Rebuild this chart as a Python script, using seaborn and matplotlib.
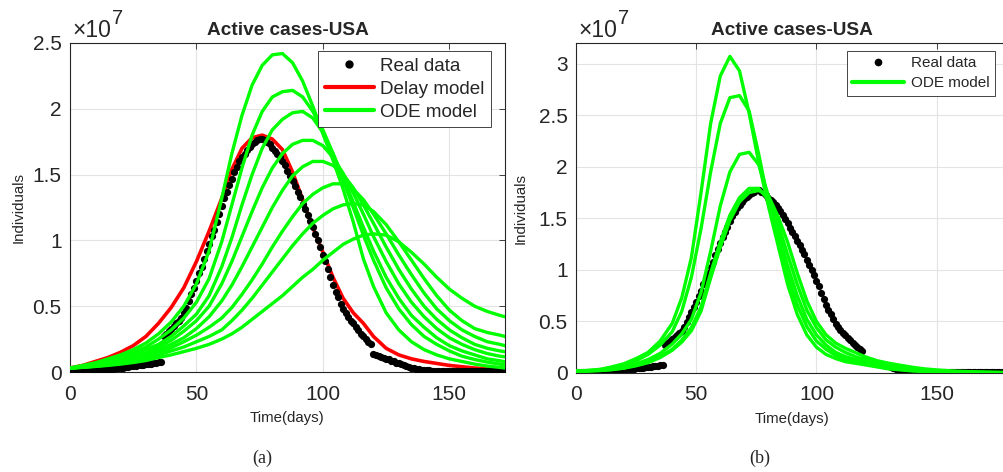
import matplotlib
matplotlib.use("Agg")
import matplotlib.pyplot as plt
import pandas as pd
import seaborn as sns
from matplotlib.lines import Line2D

# ---- real data (units of 1e7), one value per day ----
real_days = list(range(0, 181))
real_cases = [
    0.010, 0.010, 0.010, 0.010, 0.011, 0.011, 0.012, 0.013, 0.014, 0.015,
    0.016, 0.017, 0.018, 0.019, 0.020, 0.022, 0.024, 0.026, 0.028, 0.030,
    0.032, 0.034, 0.037, 0.040, 0.042, 0.045, 0.047, 0.050, 0.052, 0.055,
    0.058, 0.061, 0.064, 0.067, 0.070, 0.074, 0.078, 0.27, 0.29, 0.31,
    0.33, 0.35, 0.37, 0.39, 0.41, 0.45, 0.49, 0.54, 0.59, 0.64,
    0.69, 0.75, 0.80, 0.86, 0.92, 0.97, 1.03, 1.08, 1.14, 1.20,
    1.26, 1.32, 1.37, 1.42, 1.47, 1.52, 1.56, 1.60, 1.63, 1.66,
    1.69, 1.71, 1.73, 1.75, 1.76, 1.77, 1.77, 1.76, 1.75, 1.73,
    1.70, 1.68, 1.66, 1.63, 1.60, 1.57, 1.53, 1.49, 1.45, 1.41,
    1.37, 1.33, 1.28, 1.24, 1.19, 1.15, 1.10, 1.05, 1.00, 0.95,
    0.89, 0.84, 0.78, 0.72, 0.66, 0.61, 0.57, 0.52, 0.48, 0.45,
    0.42, 0.39, 0.37, 0.34, 0.32, 0.29, 0.27, 0.25, 0.23, 0.21,
    0.14, 0.13, 0.12, 0.115, 0.11, 0.10, 0.095, 0.087, 0.08, 0.072,
    0.065, 0.058, 0.05, 0.043, 0.037, 0.032, 0.027, 0.023, 0.02, 0.017,
    0.015, 0.013, 0.012, 0.011, 0.010, 0.0095, 0.009, 0.0085, 0.008, 0.0075,
    0.007, 0.007, 0.007, 0.007, 0.006, 0.006, 0.006, 0.006, 0.006, 0.006,
    0.005, 0.005, 0.005, 0.005, 0.005, 0.005, 0.005, 0.005, 0.005, 0.005,
    0.005, 0.005, 0.005, 0.005, 0.005, 0.005, 0.005, 0.005, 0.005, 0.005,
    0.005,
]

# ---- panel (a): model curves ----
days_a = [0, 5, 10, 15, 20, 25, 30, 35, 40, 45, 50, 55, 60,
          64, 68, 72, 76, 80, 84, 88, 92, 96, 100, 104, 108, 112, 116, 120,
          125, 130, 135, 140, 145, 150, 155, 160, 165, 170, 172]

delay_model = [0.03, 0.05, 0.08, 0.11, 0.15, 0.20, 0.27, 0.37, 0.49, 0.64, 0.84, 1.07, 1.32,
               1.54, 1.70, 1.78, 1.80, 1.77, 1.69, 1.52, 1.31, 1.10, 0.91, 0.72, 0.56, 0.45, 0.37, 0.27,
               0.18, 0.13, 0.10, 0.08, 0.065, 0.05, 0.04, 0.03, 0.025, 0.02, 0.018]

ode_a1 = [0.03, 0.05, 0.07, 0.10, 0.13, 0.17, 0.22, 0.29, 0.38, 0.50, 0.67, 0.92, 1.32,
          1.66, 1.95, 2.18, 2.33, 2.41, 2.42, 2.35, 2.21, 2.02, 1.81, 1.61, 1.39, 1.14, 0.86, 0.65,
          0.45, 0.32, 0.23, 0.17, 0.13, 0.10, 0.08, 0.06, 0.045, 0.035, 0.03]
ode_a2 = [0.03, 0.045, 0.06, 0.085, 0.11, 0.15, 0.19, 0.25, 0.32, 0.41, 0.53, 0.71, 0.99,
          1.27, 1.55, 1.80, 1.98, 2.09, 2.13, 2.14, 2.09, 1.98, 1.84, 1.66, 1.46, 1.25, 1.04, 0.85,
          0.64, 0.48, 0.36, 0.27, 0.21, 0.16, 0.12, 0.095, 0.075, 0.06, 0.053]
ode_a3 = [0.03, 0.04, 0.055, 0.075, 0.10, 0.13, 0.17, 0.21, 0.27, 0.35, 0.44, 0.58, 0.80,
          1.02, 1.27, 1.50, 1.70, 1.84, 1.92, 1.97, 1.98, 1.93, 1.82, 1.66, 1.48, 1.29, 1.10, 0.92,
          0.72, 0.56, 0.43, 0.34, 0.26, 0.20, 0.16, 0.13, 0.10, 0.085, 0.078]
ode_a4 = [0.03, 0.04, 0.05, 0.065, 0.085, 0.11, 0.145, 0.19, 0.24, 0.31, 0.39, 0.50, 0.67,
          0.84, 1.03, 1.22, 1.40, 1.55, 1.66, 1.73, 1.76, 1.76, 1.72, 1.63, 1.51, 1.36, 1.20, 1.03,
          0.84, 0.67, 0.53, 0.42, 0.33, 0.26, 0.21, 0.17, 0.14, 0.12, 0.116]
ode_a5 = [0.03, 0.038, 0.048, 0.06, 0.077, 0.10, 0.13, 0.17, 0.21, 0.26, 0.33, 0.42, 0.54,
          0.66, 0.80, 0.95, 1.10, 1.25, 1.38, 1.49, 1.56, 1.60, 1.60, 1.57, 1.50, 1.40, 1.27, 1.13,
          0.95, 0.78, 0.63, 0.50, 0.40, 0.32, 0.26, 0.21, 0.18, 0.16, 0.154]
ode_a6 = [0.03, 0.037, 0.046, 0.057, 0.072, 0.09, 0.115, 0.15, 0.185, 0.23, 0.28, 0.34, 0.41,
          0.49, 0.59, 0.70, 0.82, 0.95, 1.07, 1.18, 1.28, 1.35, 1.40, 1.43, 1.43, 1.39, 1.31, 1.20,
          1.05, 0.89, 0.74, 0.60, 0.48, 0.39, 0.32, 0.27, 0.23, 0.21, 0.20]
ode_a7 = [0.03, 0.036, 0.044, 0.054, 0.068, 0.085, 0.105, 0.13, 0.16, 0.19, 0.23, 0.27, 0.32,
          0.39, 0.47, 0.56, 0.66, 0.76, 0.86, 0.96, 1.05, 1.13, 1.19, 1.24, 1.27, 1.28, 1.27, 1.22,
          1.12, 0.99, 0.85, 0.71, 0.58, 0.47, 0.39, 0.33, 0.30, 0.28, 0.27]
ode_a8 = [0.03, 0.035, 0.042, 0.05, 0.06, 0.072, 0.087, 0.11, 0.13, 0.155, 0.18, 0.21, 0.25,
          0.29, 0.34, 0.40, 0.46, 0.52, 0.58, 0.65, 0.72, 0.78, 0.85, 0.91, 0.97, 1.01, 1.04, 1.05,
          1.04, 0.99, 0.91, 0.82, 0.72, 0.63, 0.56, 0.50, 0.46, 0.43, 0.42]
ode_a = [ode_a1, ode_a2, ode_a3, ode_a4, ode_a5, ode_a6, ode_a7, ode_a8]

# ---- panel (b): model curves ----
days_b = [0, 5, 10, 15, 20, 25, 30, 35, 40,
          44, 48, 52, 56, 60, 64, 68, 72, 76, 80, 84, 88, 92, 96, 100, 104, 108, 112, 116, 120,
          125, 130, 135, 140, 145, 150, 155, 160, 165, 170, 175, 180]

ode_b1 = [0.02, 0.025, 0.035, 0.06, 0.09, 0.14, 0.20, 0.31, 0.48,
          0.73, 1.12, 1.75, 2.42, 2.88, 3.07, 2.93, 2.52, 2.04, 1.62, 1.24, 0.86, 0.57, 0.37, 0.25,
          0.18, 0.14, 0.11, 0.095, 0.08,
          0.06, 0.04, 0.03, 0.02, 0.014, 0.01, 0.007, 0.005, 0.004, 0.003, 0.002, 0.002]
ode_b2 = [0.02, 0.023, 0.03, 0.05, 0.08, 0.12, 0.18, 0.27, 0.40,
          0.60, 0.93, 1.40, 1.95, 2.42, 2.67, 2.69, 2.54, 2.12, 1.66, 1.30, 0.95, 0.66, 0.45, 0.31,
          0.23, 0.17, 0.135, 0.11, 0.09,
          0.07, 0.05, 0.035, 0.025, 0.018, 0.013, 0.009, 0.006, 0.005, 0.004, 0.003, 0.002]
ode_b3 = [0.02, 0.022, 0.028, 0.04, 0.06, 0.09, 0.13, 0.19, 0.28,
          0.38, 0.52, 0.78, 1.18, 1.62, 1.95, 2.12, 2.14, 2.02, 1.72, 1.38, 1.04, 0.75, 0.52, 0.37,
          0.27, 0.20, 0.16, 0.13, 0.105,
          0.08, 0.06, 0.045, 0.032, 0.023, 0.016, 0.011, 0.008, 0.006, 0.004, 0.003, 0.002]
ode_b4 = [0.02, 0.021, 0.025, 0.035, 0.05, 0.075, 0.11, 0.16, 0.23,
          0.32, 0.44, 0.64, 0.97, 1.27, 1.53, 1.70, 1.79, 1.79, 1.68, 1.45, 1.15, 0.86, 0.61, 0.44,
          0.32, 0.25, 0.20, 0.16, 0.13,
          0.10, 0.075, 0.055, 0.04, 0.03, 0.021, 0.015, 0.011, 0.008, 0.006, 0.004, 0.003]
ode_b5 = [0.02, 0.02, 0.024, 0.032, 0.047, 0.07, 0.10, 0.15, 0.22,
          0.30, 0.41, 0.60, 0.92, 1.22, 1.48, 1.66, 1.75, 1.77, 1.72, 1.52, 1.27, 0.97, 0.70, 0.50,
          0.37, 0.29, 0.24, 0.20, 0.16,
          0.12, 0.095, 0.075, 0.055, 0.04, 0.03, 0.022, 0.016, 0.012, 0.009, 0.007, 0.005]
ode_b = [ode_b1, ode_b2, ode_b3, ode_b4, ode_b5]

GREEN = "#00ff00"
RED = "#ff0000"
AXC = "#262626"


def long_frame(days, curves):
    rows = []
    for i, c in enumerate(curves):
        for d, v in zip(days, c):
            rows.append({"day": d, "cases": v, "curve": i})
    return pd.DataFrame(rows)


def style_axes(ax, xmax, ymax, yticks, yticklabels):
    ax.set_xlim(0, xmax)
    ax.set_ylim(0, ymax)
    ax.set_xticks([0, 50, 100, 150])
    ax.set_yticks(yticks)
    ax.set_yticklabels(yticklabels)
    ax.grid(True, color="#e3e3e3", lw=0.8)
    ax.set_axisbelow(True)
    for s in ax.spines.values():
        s.set_color(AXC)
        s.set_linewidth(0.8)
        s.set_visible(True)
    ax.tick_params(direction="in", length=4, width=0.6, top=True, right=True,
                   colors=AXC, labelsize=15, labelcolor=AXC)
    ax.tick_params(axis="x", pad=9)
    ax.tick_params(axis="y", pad=6)
    ax.set_title("Active cases-USA", fontsize=13.7, fontweight="bold", pad=6)
    ax.set_xlabel("Time(days)", fontsize=10.8, color=AXC)
    ax.set_ylabel("Individuals", fontsize=10.8, color=AXC)
    ax.text(0.005, 1.003, "\u00d710", transform=ax.transAxes, fontsize=16.5,
            color=AXC, ha="left", va="bottom")
    ax.text(0.097, 1.045, "7", transform=ax.transAxes, fontsize=14.5,
            color=AXC, ha="left", va="bottom")


sns.set_theme(style="white")
plt.rcParams["font.family"] = ["Liberation Sans", "DejaVu Sans"]

fig = plt.figure(figsize=(10.04, 4.72), dpi=100)
ax1 = fig.add_axes([70 / 1004, 1 - 372 / 472, 435 / 1004, 329 / 472])
ax2 = fig.add_axes([576 / 1004, 1 - 373 / 472, 432.8 / 1004, 330 / 472])

# panel (a)
sns.scatterplot(x=real_days, y=real_cases, ax=ax1, color="black", s=27,
                linewidth=0, zorder=3)
sns.lineplot(x=days_a, y=delay_model, ax=ax1, color=RED, lw=2.6, sort=False, zorder=2)
sns.lineplot(data=long_frame(days_a, ode_a), x="day", y="cases", units="curve",
             estimator=None, sort=False, ax=ax1, color=GREEN, lw=2.4, zorder=4)
style_axes(ax1, 172, 2.5, [0, 0.5, 1, 1.5, 2, 2.5], ["0", "0.5", "1", "1.5", "2", "2.5"])
ax1.xaxis.set_label_coords(0.5, -0.118)
ax1.yaxis.set_label_coords(-0.103, 0.5)
h_a = [Line2D([], [], ls="none", marker="o", color="black", markersize=5),
       Line2D([], [], color=RED, lw=3),
       Line2D([], [], color=GREEN, lw=3)]
leg = ax1.legend(h_a, ["Real data", "Delay model", "ODE model"], loc="upper right",
                 bbox_to_anchor=(0.968, 0.976), borderaxespad=0, fontsize=13.6,
                 fancybox=False, framealpha=1, edgecolor=AXC, handlelength=2.6,
                 handletextpad=0.35, borderpad=0.34, labelspacing=0.31)
leg.get_frame().set_linewidth(0.6)

# panel (b)
sns.scatterplot(x=real_days, y=real_cases, ax=ax2, color="black", s=27,
                linewidth=0, zorder=2)
sns.lineplot(data=long_frame(days_b, ode_b), x="day", y="cases", units="curve",
             estimator=None, sort=False, ax=ax2, color=GREEN, lw=2.4, zorder=3)
style_axes(ax2, 180, 3.2, [0, 0.5, 1, 1.5, 2, 2.5, 3],
           ["0", "0.5", "1", "1.5", "2", "2.5", "3"])
ax2.xaxis.set_label_coords(0.5, -0.117)
ax2.yaxis.set_label_coords(-0.111, 0.5)
h_b = [Line2D([], [], ls="none", marker="o", color="black", markersize=4.5),
       Line2D([], [], color=GREEN, lw=3)]
leg2 = ax2.legend(h_b, ["Real data", "ODE model"], loc="upper right",
                  bbox_to_anchor=(0.968, 0.976), borderaxespad=0, fontsize=11,
                  fancybox=False, framealpha=1, edgecolor=AXC, handlelength=3.4,
                  handletextpad=0.45, borderpad=0.36, labelspacing=0.39)
leg2.get_frame().set_linewidth(0.6)

fig.text(262 / 1004, 1 - 458 / 472, "(a)", fontsize=13, family="Liberation Serif",
         ha="center", va="center")
fig.text(760 / 1004, 1 - 458 / 472, "(b)", fontsize=13, family="Liberation Serif",
         ha="center", va="center")

fig.savefig("out.png", dpi=100)
